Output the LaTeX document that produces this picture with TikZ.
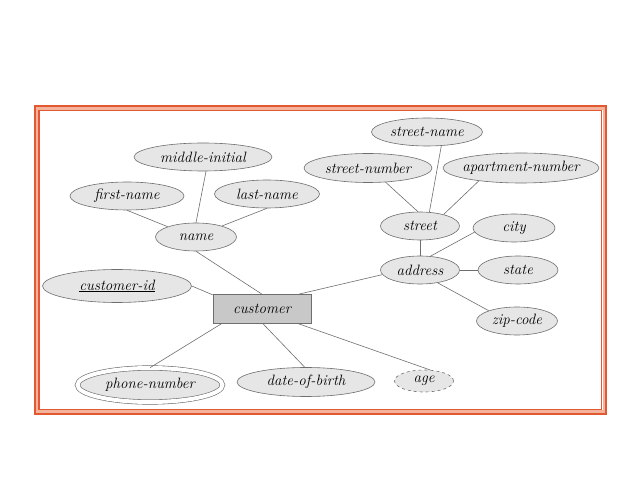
\documentclass[tikz,border=0pt]{standalone}
\usetikzlibrary{shapes.geometric}
\definecolor{frameA}{RGB}{226,88,50}
\definecolor{frameB}{RGB}{243,180,155}
\definecolor{attrfill}{RGB}{230,230,230}
\definecolor{entfill}{RGB}{200,200,200}
\definecolor{edgegray}{RGB}{110,110,110}
\tikzset{
  attr/.style={ellipse, draw=edgegray, fill=attrfill, line width=0.6pt, inner ysep=0pt, inner xsep=-14pt,
    font=\fontsize{15}{17}\selectfont\itshape},
  ent/.style={rectangle, draw=edgegray, fill=entfill, line width=0.6pt, inner sep=0pt,
    minimum width=98pt, minimum height=29pt, font=\fontsize{15}{17}\selectfont\itshape},
  link/.style={draw=edgegray, line width=0.6pt},
}
\begin{document}
\begin{tikzpicture}[x=1pt,y=-1pt]
\useasboundingbox (0,0) rectangle (638,478);
% frame
\draw[frameB, line width=3pt] (36.5,108.5) rectangle (604,412);
\draw[frameA, line width=2pt] (34.5,106) rectangle (606,414.5);
\draw[frameA, line width=1.2pt] (39,110.5) rectangle (601.5,409.5);

% nodes
\node[ent] (customer) at (262,309) {customer};
\node[attr, minimum width=138pt, minimum height=28pt] (middle) at (203,157) {middle-initial};
\node[attr, minimum width=114pt, minimum height=28pt] (first) at (127,196) {first-name};
\node[attr, minimum width=105pt, minimum height=28pt] (last) at (267,194) {last-name};
\node[attr, minimum width=81pt, minimum height=28pt] (name) at (196,237) {name};
\node[attr, minimum width=111pt, minimum height=28pt] (sname) at (427,132) {street-name};
\node[attr, minimum width=128pt, minimum height=29pt] (snumber) at (368,168) {street-number};
\node[attr, minimum width=156pt, minimum height=30pt] (apt) at (521,168) {apartment-number};
\node[attr, minimum width=79pt, minimum height=28pt] (street) at (420,226) {street};
\node[attr, minimum width=82pt, minimum height=28pt] (city) at (514,228) {city};
\node[attr, minimum width=79pt, minimum height=28pt] (address) at (420,270) {address};
\node[attr, minimum width=80pt, minimum height=28pt] (state) at (518,270) {state};
\node[attr, minimum width=81pt, minimum height=28pt] (zip) at (517,321) {zip-code};
\node[attr, dashed, minimum width=59pt, minimum height=22pt] (age) at (424,381) {age};
\node[attr, minimum width=138pt, minimum height=29pt] (dob) at (306,382) {date-of-birth};
\node[attr, minimum width=149pt, minimum height=33pt] (cid) at (117,286) {\underline{customer-id}};
\node[attr, double=white, double distance=4pt, minimum width=145pt, minimum height=34pt] (phone) at (150,385) {phone-number};

% connectors
\draw[link] (first.south) -- (name.160);
\draw[link] (middle.-78) -- (name.north);
\draw[link] (last.south) -- (name.23);
\draw[link] (name.south) -- (customer.north);
\draw[link] (cid.east) -- (customer.164);
\draw[link] (customer.22) -- (address.187);
\draw[link] (sname.-44) -- (street.56);
\draw[link] (snumber.-39) -- (street.98);
\draw[link] (apt.-163) -- (street.26);
\draw[link] (street.south) -- (address.north);
\draw[link] (city.186) -- (address.53);
\draw[link] (address.east) -- (state.west);
\draw[link] (address.-36) -- (zip.160);
\draw[link] (customer.-160) -- (phone.north);
\draw[link] (customer.-86) -- (dob.95);
\draw[link] (customer.-22) -- (age.61);
\end{tikzpicture}
\end{document}
